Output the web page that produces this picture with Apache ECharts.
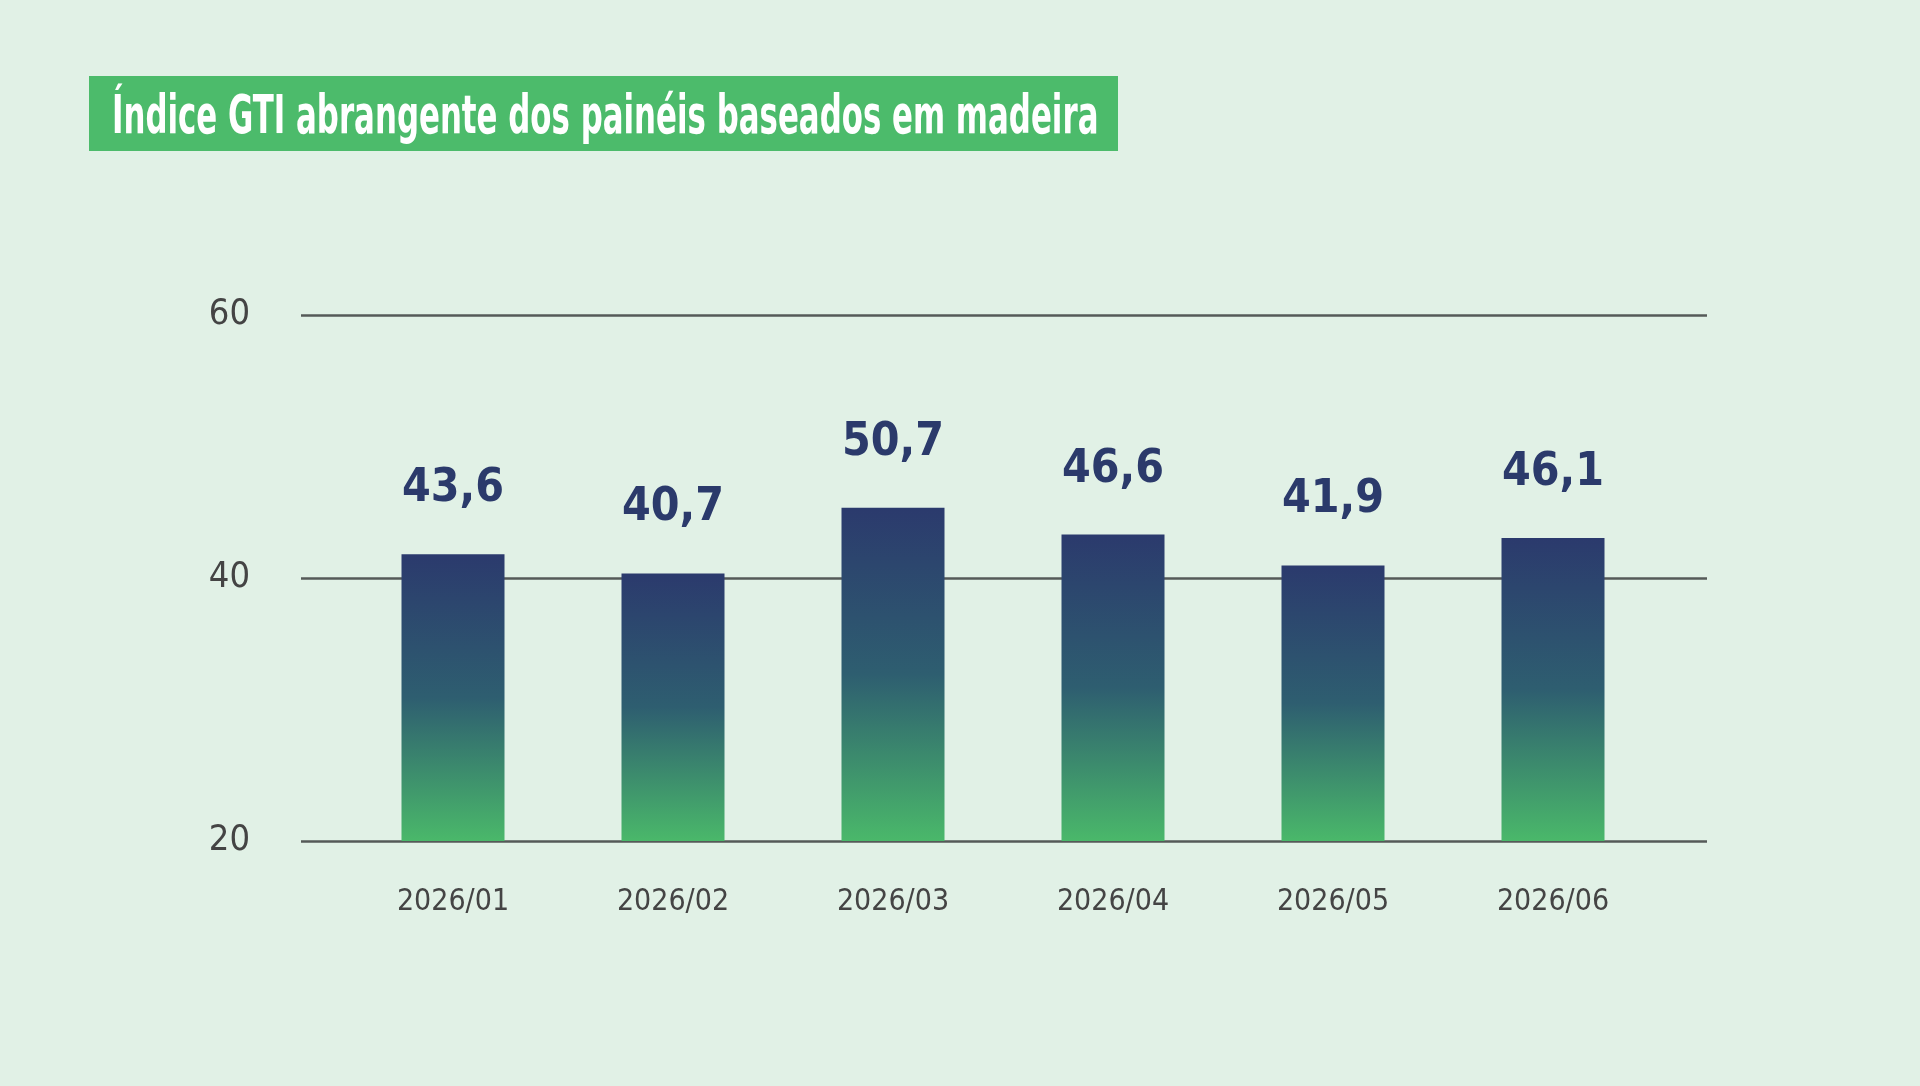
<!DOCTYPE html>
<html>
<head>
<meta charset="utf-8">
<script src="https://cdn.jsdelivr.net/npm/echarts@6/dist/echarts.min.js"></script>
<style>
html,body{margin:0;padding:0;background:#e1f1e6;}
#chart{width:1920px;height:1086px;}
</style>
</head>
<body>
<div id="chart"></div>
<script>
const titleText = 'Índice GTI abrangente dos painéis baseados em madeira';
const categories = ['2026/01','2026/02','2026/03','2026/04','2026/05','2026/06'];
const values = [43.6, 40.7, 50.7, 46.6, 41.9, 46.1];
const yTicks = [20, 40, 60];

const chart = echarts.init(document.getElementById('chart'));
const font = '"DejaVu Sans Condensed", "Liberation Sans Narrow", Roboto, sans-serif';
chart.setOption({
  backgroundColor: '#e1f1e6',
  animation: false,
  graphic: [{
    type: 'group', left: 89, top: 76,
    children: [
      { type: 'rect', shape: { x: 0, y: 0, width: 1029, height: 75 }, style: { fill: '#4cbb6b' } },
      { type: 'text', x: 23, y: 43, scaleX: 0.635,
        style: { text: titleText, fill: '#ffffff', font: 'bold 54px ' + font, verticalAlign: 'middle', align: 'left' } }
    ]
  }],
  grid: [
    { left: 301, right: 213, top: 315, bottom: 245 },
    { left: 343, right: 257, top: 315, bottom: 245 }
  ],
  xAxis: [
    { gridIndex: 0, type: 'value', show: false, min: 0, max: 1 },
    { gridIndex: 1, type: 'category', data: categories,
      axisLine: { show: false }, axisTick: { show: false },
      axisLabel: { color: '#444444', fontFamily: font, fontSize: 30, margin: 46 } }
  ],
  yAxis: [
    { gridIndex: 0, type: 'value', min: yTicks[0], max: yTicks[yTicks.length-1], interval: 20,
      axisLine: { show: false }, axisTick: { show: false },
      axisLabel: { color: '#444444', fontFamily: font, fontSize: 36, margin: 51, padding: [8, 0, 0, 0] },
      splitLine: { lineStyle: { color: '#555a58', width: 2.5 } } },
    { gridIndex: 1, type: 'value', min: 0, max: 80, show: false, splitLine: { show: false } }
  ],
  series: [{
    type: 'bar',
    xAxisIndex: 1, yAxisIndex: 1,
    data: values,
    barWidth: 103,
    itemStyle: {
      color: new echarts.graphic.LinearGradient(0, 0, 0, 1, [
        { offset: 0, color: '#2b3a6d' },
        { offset: 0.5, color: '#2e5e70' },
        { offset: 1, color: '#4ab86a' }
      ])
    },
    label: {
      show: true, position: 'top', distance: 42,
      color: '#2b3a6b', fontFamily: font, fontWeight: 'bold', fontSize: 46,
      formatter: p => String(p.value).replace('.', ',')
    }
  }]
});
</script>
</body>
</html>
